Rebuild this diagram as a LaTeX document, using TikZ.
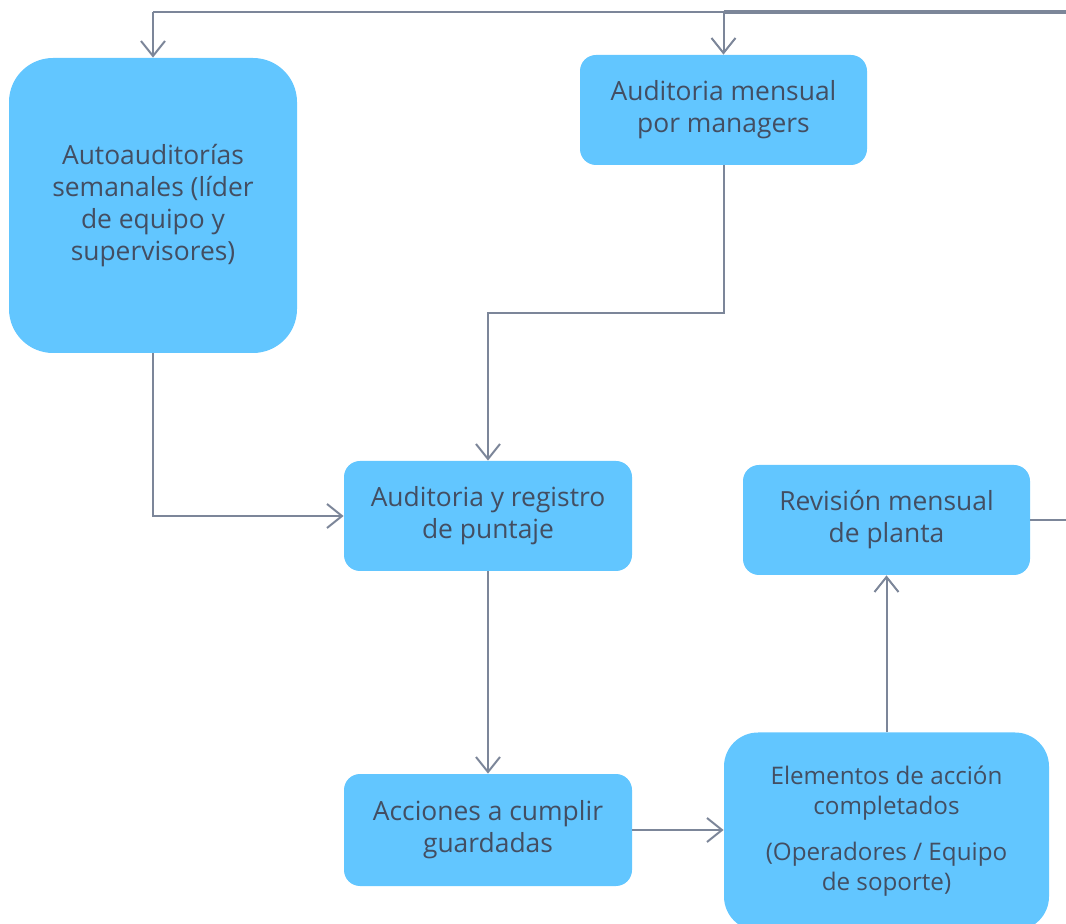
\documentclass[tikz,border=0pt]{standalone}
\usepackage{fontspec}
\setmainfont{Open Sans}
\usetikzlibrary{arrows.meta}
\definecolor{cajaazul}{HTML}{62C6FF}
\definecolor{textogris}{HTML}{434E62}
\definecolor{lineagris}{HTML}{7C8699}
\begin{document}
\begin{tikzpicture}[x=0.5pt,y=-0.5pt,
    caja/.style={fill=cajaazul, text=textogris, rounded corners=8pt, align=center,
                 inner sep=0pt, font=\fontsize{13.2}{16}\selectfont},
    linea/.style={draw=lineagris, line width=1pt},
    flecha/.style={linea, -{Straight Barb[length=7.5pt,width=12pt,line width=1pt]}}]
        \useasboundingbox (0,0) rectangle (1066,924);
        % cajas
        \node[caja, minimum width=144pt, minimum height=147.5pt, rounded corners=22pt] (auto) at (153,205.5)
            {Autoauditorías\\semanales (líder\\de equipo y\\supervisores)};
        \node[caja, minimum width=143.5pt, minimum height=55pt] (mensual) at (723.5,110) {Auditoria mensual\\por managers};
        \node[caja, minimum width=144pt, minimum height=55pt] (registro) at (488,516) {Auditoria y registro\\de puntaje};
        \node[caja, minimum width=143.5pt, minimum height=55pt] (revision) at (886.5,520) {Revisión mensual\\de planta};
        \node[caja, minimum width=144pt, minimum height=56pt] (acciones) at (488,830) {Acciones a cumplir\\guardadas};
        \node[caja, minimum width=162.5pt, minimum height=99pt, rounded corners=17pt,
              font=\fontsize{12.1}{15}\selectfont] (elementos) at (886.5,831.5)
            {Elementos de acción\\completados\\[8pt](Operadores / Equipo\\de soporte)};
        % lineas de retorno
        \coordinate (arribaI) at (153,12);
        \coordinate (arribaM) at (723.5,12);
        \coordinate (arribaD) at (1066,12);
        \coordinate (codo) at (488,313);
        \coordinate (salida) at (1066,520);
        \draw[linea] (arribaI) -- (arribaD);
        \draw[linea, line width=1.6pt] (arribaM) -- (arribaD);
        \draw[flecha] (arribaI) -- (auto.north);
        \draw[flecha] (arribaM) -- (mensual.north);
        \draw[flecha] (mensual.south) |- (codo) -- (registro.north);
        \draw[flecha] (auto.south) |- (registro.west);
        \draw[flecha] (registro) -- (acciones);
        \draw[flecha] (acciones.east) -- (acciones.east -| elementos.west);
        \draw[flecha] (elementos) -- (revision);
        \draw[linea] (revision.east) -- (salida);
\end{tikzpicture}
\end{document}
